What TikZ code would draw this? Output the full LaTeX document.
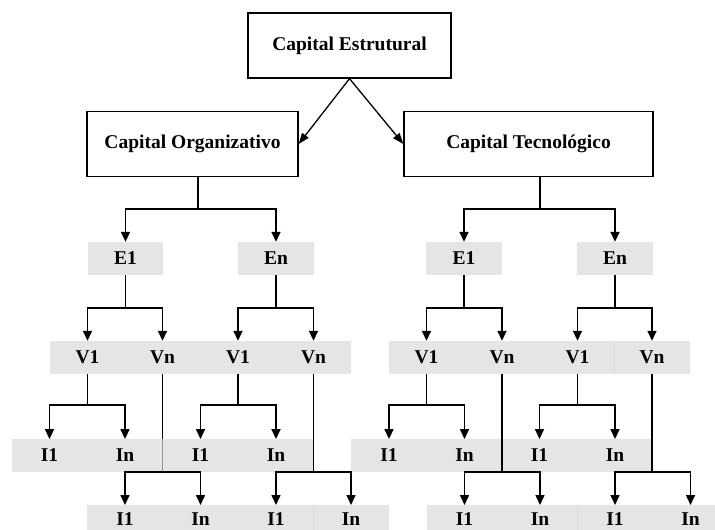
\documentclass[tikz,border=0pt]{standalone}
\usepackage{fontspec}
\setmainfont{Liberation Serif}
\usetikzlibrary{arrows.meta,backgrounds,calc}
\definecolor{gfill}{RGB}{218,218,218}
\begin{document}
\begin{tikzpicture}[x=1pt,y=-1pt,
  cbox/.style={draw,line width=1.3pt,minimum width=#1,minimum height=65,inner sep=0,
    font=\fontsize{19.5}{20}\selectfont\bfseries},
  gbox/.style={fill=gfill,fill opacity=0.69,text opacity=1,minimum width=75.5,minimum height=33,
    inner sep=0,font=\fontsize{19.5}{20}\selectfont\bfseries},
  lowbox/.style={gbox,minimum height=27,anchor=north},
  conn/.style={line width=1.6pt},
  arr/.style={conn,-{Triangle[width=9pt,length=10pt]}},
  darr/.style={line width=1.3pt,-{Triangle[width=8pt,length=11pt]}}]
\useasboundingbox (0,0) rectangle (715,530);
% top boxes
\node[cbox=203] (CE) at (349.5,45.5) {Capital Estrutural};
\node[cbox=211] (CO) at (192.5,144) {Capital Organizativo};
\node[cbox=249] (CT) at (528.5,144) {Capital Tecnol\'ogico};
% E row
\node[gbox] (aE1) at (125.5,258.5) {E1};
\node[gbox] (aEn) at (276,258.5) {En};
\node[gbox] (bE1) at (464,258.5) {E1};
\node[gbox] (bEn) at (615,258.5) {En};
% V row
\node[gbox] (aV1) at (87.5,357.5) {V1};
\node[gbox] (aVn) at (162.5,357.5) {Vn};
\node[gbox] (cV1) at (238,357.5) {V1};
\node[gbox] (cVn) at (313.5,357.5) {Vn};
\node[gbox] (bV1) at (426.5,357.5) {V1};
\node[gbox] (bVn) at (502,357.5) {Vn};
\node[gbox] (dV1) at (577.5,357.5) {V1};
\node[gbox] (dVn) at (652,357.5) {Vn};
% I row 1
\node[gbox,minimum height=32.5] (p1) at (49.5,455.5) {I1};
\node[gbox,minimum height=32.5] (pn) at (125,455.5) {In};
\node[gbox,minimum height=32.5] (q1) at (200.5,455.5) {I1};
\node[gbox,minimum height=32.5] (qn) at (276,455.5) {In};
\node[gbox,minimum height=32.5] (r1) at (389,455.5) {I1};
\node[gbox,minimum height=32.5] (rn) at (464.5,455.5) {In};
\node[gbox,minimum height=32.5] (s1) at (539.5,455.5) {I1};
\node[gbox,minimum height=32.5] (sn) at (615,455.5) {In};
% I row 2
\node[lowbox] (t1) at (125,505) {I1};
\node[lowbox] (tn) at (200.5,505) {In};
\node[lowbox] (u1) at (276,505) {I1};
\node[lowbox] (un) at (351,505) {In};
\node[lowbox] (v1) at (464.5,505) {I1};
\node[lowbox] (vn) at (540,505) {In};
\node[lowbox] (w1) at (615,505) {I1};
\node[lowbox] (wn) at (690.5,505) {In};
% top arrows
\draw[darr] (CE.south) -- (CO.east);
\draw[darr] (CE.south) -- (CT.west);
% CO -> E
\draw[conn] (CO.south -| 198,0) -- (198,209);
\draw[arr] (198,209) -| (aE1.north);
\draw[arr] (198,209) -| (aEn.north);
\draw[conn] (CT.south -| 540,0) -- (540,209);
\draw[arr] (540,209) -| (bE1.north);
\draw[arr] (540,209) -| (bEn.north);
% E -> V
\foreach \e/\l/\r in {aE1/aV1/aVn, aEn/cV1/cVn, bE1/bV1/bVn, bEn/dV1/dVn}{
  \draw[conn] (\e.south) -- ++(0,33) coordinate (j\e);
  \draw[arr] (j\e) -| (\l.north);
  \draw[arr] (j\e) -| (\r.north);
}
% V1 -> I row 1
\foreach \v/\l/\r in {aV1/p1/pn, cV1/q1/qn, bV1/r1/rn, dV1/s1/sn}{
  \draw[conn] (\v.south) -- ++(0,31) coordinate (j\v);
  \draw[arr] (j\v) -| (\l.north);
  \draw[arr] (j\v) -| (\r.north);
}
% Vn -> I row 2
\begin{scope}[on background layer]
\draw[conn] (aVn.south) -- ++(0,98) coordinate (jaVn);
\end{scope}
\draw[arr] (jaVn) -| (t1.north);
\draw[arr] (jaVn) -| (tn.north);
\foreach \v/\l/\r in {cVn/u1/un, bVn/v1/vn, dVn/w1/wn}{
  \draw[conn] (\v.south) -- ++(0,98) coordinate (j\v);
  \draw[arr] (j\v) -| (\l.north);
  \draw[arr] (j\v) -| (\r.north);
}
\end{tikzpicture}
\end{document}
